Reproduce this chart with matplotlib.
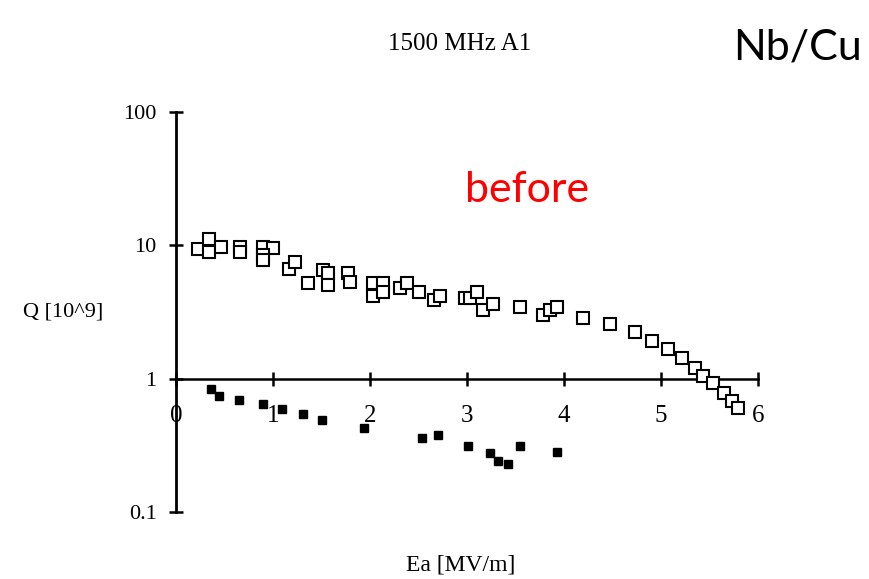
import matplotlib.pyplot as plt

# Q0 vs accelerating field, 1500 MHz Nb/Cu cavity A1
ea_open = [0.23, 0.34, 0.34, 0.46, 0.66, 0.66, 0.90, 1.00, 0.90, 0.90,
           1.16, 1.23, 1.36, 1.52, 1.57, 1.57, 1.77, 1.79, 2.03, 2.13,
           2.03, 2.13, 2.31, 2.38, 2.51, 2.66, 2.72, 2.98, 3.03, 3.10,
           3.16, 3.27, 3.55, 3.78, 3.86, 3.93, 4.20, 4.47, 4.73, 4.91,
           5.07, 5.22, 5.35, 5.43, 5.54, 5.65, 5.73, 5.79]
q_open = [9.33, 11.1, 8.85, 9.8, 9.8, 8.85, 9.8, 9.5, 8.4, 7.7,
          6.7, 7.45, 5.18, 6.5, 6.16, 5.0, 6.16, 5.27, 5.18, 5.18,
          4.14, 4.43, 4.75, 5.18, 4.43, 3.86, 4.14, 4.0, 4.0, 4.43,
          3.3, 3.66, 3.42, 2.98, 3.25, 3.42, 2.83, 2.59, 2.22, 1.93,
          1.68, 1.44, 1.21, 1.05, 0.92, 0.785, 0.68, 0.605]

ea_filled = [0.36, 0.44, 0.65, 0.90, 1.09, 1.31, 1.51, 1.94, 2.54, 2.70,
             3.01, 3.24, 3.32, 3.42, 3.55, 3.93]
q_filled = [0.84, 0.745, 0.695, 0.65, 0.595, 0.545, 0.49, 0.43, 0.36, 0.38,
            0.313, 0.278, 0.24, 0.23, 0.313, 0.283]

x_ticks = [0, 1, 2, 3, 4, 5, 6]
y_ticks = [0.1, 1, 10, 100]
y_ticklabels = ["0.1", "1", "10", "100"]

serif = "Liberation Serif"

fig = plt.figure(figsize=(8.69, 5.79), dpi=100)
ax = fig.add_axes([176 / 869, 1 - 512 / 579, (758 - 176) / 869, 400 / 579])

ax.plot(ea_open, q_open, linestyle="none", marker="s", markersize=9,
        markerfacecolor="white", markeredgecolor="black",
        markeredgewidth=1.5, clip_on=False, zorder=3)
ax.plot(ea_filled, q_filled, linestyle="none", marker="s", markersize=6,
        color="black", clip_on=False, zorder=3)

ax.set_yscale("log")
ax.set_xlim(0, 6)
ax.set_ylim(0.1, 100)

for side in ["top", "right"]:
    ax.spines[side].set_visible(False)
ax.spines["bottom"].set_position(("data", 1))
ax.spines["left"].set_linewidth(2)
ax.spines["bottom"].set_linewidth(1.8)

ax.set_xticks(x_ticks)
ax.set_xticklabels([str(t) for t in x_ticks], family=serif, fontsize=18)
ax.set_yticks(y_ticks)
ax.set_yticklabels(y_ticklabels, family=serif, fontsize=16)
ax.yaxis.set_minor_locator(plt.NullLocator())
ax.tick_params(axis="x", direction="inout", length=10, width=1.8, pad=14)
ax.tick_params(axis="y", direction="inout", length=10, width=1.8, pad=9)

fig.text(63 / 869, 1 - 312 / 579, "Q [10^9]", family=serif, fontsize=16,
         ha="center", va="center")
fig.text(461 / 869, 1 - 565 / 579, "Ea [MV/m]", family=serif, fontsize=17,
         ha="center", va="center")
fig.text(460 / 869, 1 - 44 / 579, "1500 MHz A1", family=serif, fontsize=18,
         ha="center", va="center")
fig.text(862 / 869, 1 - 47 / 579, "Nb/Cu", family="Lato", fontsize=31,
         ha="right", va="center")
fig.text(527 / 869, 1 - 190 / 579, "before", family="Lato", fontsize=31,
         color="#ff0000", ha="center", va="center")

fig.savefig("out.png", dpi=100)
